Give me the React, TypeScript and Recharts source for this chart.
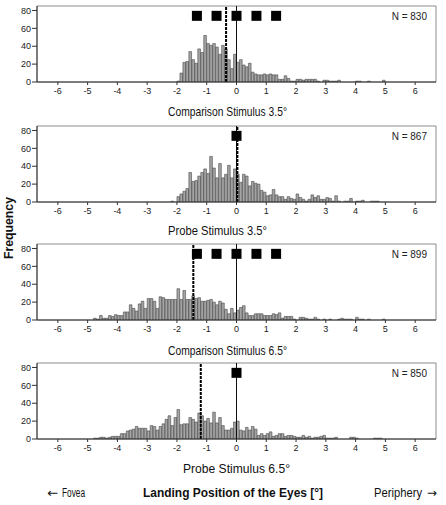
import { ComposedChart, Bar, XAxis, YAxis, ReferenceLine, ReferenceDot, ReferenceArea } from 'recharts';

const BIN_WIDTH = 0.1;
const X_TICKS = [-6, -5, -4, -3, -2, -1, 0, 1, 2, 3, 4, 5, 6];
const Y_TICKS = [0, 20, 40, 60, 80];

// counts per 0.1° bin, first bin starts at *_START
const COMPARISON_35_START = -2.0;
const COMPARISON_35 = [
  1, 10, 22, 23, 34, 25, 21, 37, 33, 52, 43, 41, 43, 39, 31, 41, 37, 25, 15, 31,
  22, 25, 19, 17, 21, 11, 9, 8, 8, 9,
  8, 9, 8, 8, 3, 3, 7, 4, 1, 1,
  3, 3, 2, 3, 3, 3, 3, 1, 0, 2,
  2, 1, 1, 1, 2, 0, 0, 0, 0, 0,
  1, 1, 0, 0, 1, 0, 0, 0, 0, 2,
];

const PROBE_35_START = -2.2;
const PROBE_35 = [
  1, 0,
  6, 9, 12, 15, 33, 23, 24, 29, 33, 37, 32, 51, 38, 27, 43, 27, 31, 41, 27, 37,
  31, 22, 31, 29, 18, 23, 21, 20, 13, 11,
  7, 8, 14, 8, 6, 6, 3, 6, 4, 3,
  9, 5, 3, 1, 3, 8, 5, 7, 3, 3,
  5, 4, 1, 7, 1, 0, 1, 1, 4, 0,
  1, 1, 2, 0, 0, 1, 1, 1,
];

const COMPARISON_65_START = -4.8;
const COMPARISON_65 = [
  2, 1, 5, 2, 2, 5, 4, 6, 5, 5,
  9, 9, 17, 13, 10, 18, 21, 13, 24, 24,
  21, 13, 26, 25, 23, 23, 23, 23, 35, 23,
  33, 23, 23, 27, 24, 25, 21, 21, 22, 23,
  20, 17, 21, 19, 12, 7, 13, 8,
  11, 14, 16, 8, 5, 5, 7, 7, 7, 5,
  5, 5, 7, 6, 8, 2, 4, 4, 4, 1,
  0, 3, 3, 2, 1, 1, 3, 1, 0, 1,
  0, 1, 0, 0, 1, 2, 1, 1, 1, 0,
  3, 1, 1, 0, 1, 0, 0, 0, 0, 1,
];

const PROBE_65_START = -4.8;
const PROBE_65 = [
  1, 1, 2, 2, 1, 2, 3, 3, 3, 6,
  6, 9, 10, 11, 14, 12, 12, 12, 9, 15,
  14, 10, 14, 17, 22, 26, 15, 24, 33, 16,
  17, 17, 24, 22, 19, 29, 26, 20, 23, 18,
  30, 18, 24, 15, 10, 10, 12, 19,
  20, 10, 9, 13, 10, 14, 11, 4, 6, 4,
  6, 8, 3, 4, 6, 6, 3, 4, 4, 3,
  2, 2, 4, 2, 3, 1, 2, 2, 3, 4,
  1, 1, 1, 2, 0, 0, 0, 0, 2, 2,
  1, 0, 0, 0, 0, 0, 1, 1, 1,
];

const STIMULI_FIVE = [-1.33, -0.67, 0, 0.67, 1.33];
const STIMULI_ONE = [0];
const STIMULUS_Y = 74;
const MEAN_LANDING = [-0.35, 0.03, -1.45, -1.2];
const N_VALUES = [830, 867, 899, 850];
const TITLES = ['Comparison Stimulus 3.5°', 'Probe Stimulus 3.5°', 'Comparison Stimulus 6.5°', 'Probe Stimulus 6.5°'];

const toBins = (start: number, counts: number[]) =>
  counts.map((c, i) => ({ x: +(start + i * BIN_WIDTH + BIN_WIDTH / 2).toFixed(2), count: c }));

const FONT = '"Liberation Sans", Arial, Helvetica, sans-serif';
const ARROW_FONT = '"DejaVu Sans", sans-serif';

const PANELS = [
  { data: toBins(COMPARISON_35_START, COMPARISON_35), stimuli: STIMULI_FIVE, top: 0, titleX: 168, titleY: 111, titleW: 119 },
  { data: toBins(PROBE_35_START, PROBE_35), stimuli: STIMULI_ONE, top: 120, titleX: 168, titleY: 230, titleW: 99 },
  { data: toBins(COMPARISON_65_START, COMPARISON_65), stimuli: STIMULI_FIVE, top: 238, titleX: 168, titleY: 350, titleW: 119 },
  { data: toBins(PROBE_65_START, PROBE_65), stimuli: STIMULI_ONE, top: 357, titleX: 183, titleY: 468, titleW: 107 },
];

const Square = (p: any) => <rect x={p.cx - 5} y={p.cy - 5} width={10} height={10} fill="#000" />;

function Histogram({ data, stimuli, mean }: { data: { x: number; count: number }[]; stimuli: number[]; mean: number }) {
  return (
    <ComposedChart width={446} height={100} data={data} margin={{ top: 6, right: 10, bottom: 0, left: 0 }}>
      <ReferenceArea x1={-6.7} x2={6.7} y1={0} y2={85} fill="#fff" fillOpacity={0} stroke="#8c8c8c" strokeWidth={1} />
      <XAxis
        dataKey="x"
        type="number"
        domain={[-6.7, 6.7]}
        ticks={X_TICKS}
        interval={0}
        allowDataOverflow
        height={18}
        tickSize={3}
        tickMargin={3}
        axisLine={{ stroke: '#333' }}
        tickLine={{ stroke: '#333' }}
        tick={{ fontSize: 9, fill: '#222', fontFamily: FONT }}
      />
      <YAxis
        type="number"
        domain={[0, 85]}
        ticks={Y_TICKS}
        interval={0}
        allowDataOverflow
        width={37}
        tickSize={5}
        tickMargin={1}
        axisLine={{ stroke: '#333' }}
        tickLine={{ stroke: '#333' }}
        tick={{ fontSize: 9, fill: '#222', fontFamily: FONT }}
      />
      <Bar dataKey="count" barSize={3} fill="#a4a4a4" stroke="#333" strokeWidth={0.5} isAnimationActive={false} />
      <ReferenceLine x={0} stroke="#111" strokeWidth={1} />
      <ReferenceLine x={mean} stroke="#000" strokeWidth={2} strokeDasharray="3 1" />
      {stimuli.map((s) => (
        <ReferenceDot key={s} x={s} y={STIMULUS_Y} r={5} shape={Square} />
      ))}
    </ComposedChart>
  );
}

export default function App() {
  return (
    <div style={{ position: 'absolute', left: 0, top: 0, width: 446, height: 505, background: '#fff', fontFamily: FONT }}>
      {PANELS.map((p, i) => (
        <div key={i} style={{ position: 'absolute', left: 0, top: p.top }}>
          <Histogram data={p.data} stimuli={p.stimuli} mean={MEAN_LANDING[i]} />
        </div>
      ))}
      <svg width={446} height={505} style={{ position: 'absolute', left: 0, top: 0, pointerEvents: 'none' }} fontFamily={FONT}>
        {PANELS.map((p, i) => (
          <g key={i}>
            <text x={427} y={p.top + 20} fontSize={10} textAnchor="end" fill="#222">{`N = ${N_VALUES[i]}`}</text>
            <text x={p.titleX} y={p.titleY + 5} fontSize={13.5} fill="#111" textLength={p.titleW} lengthAdjust="spacingAndGlyphs">
              {TITLES[i]}
            </text>
          </g>
        ))}
        <text x={0} y={0} transform="translate(13 228) rotate(-90)" textAnchor="middle" fontSize={13} fontWeight="bold" fill="#111" textLength={62} lengthAdjust="spacingAndGlyphs">
          Frequency
        </text>
        <text x={47} y={497} fontSize={12.5} fill="#111" fontFamily={ARROW_FONT} textLength={11} lengthAdjust="spacingAndGlyphs">←</text>
        <text x={62} y={497} fontSize={12.5} fill="#111" textLength={23} lengthAdjust="spacingAndGlyphs">Fovea</text>
        <text x={143} y={497} fontSize={13.5} fontWeight="bold" fill="#111" textLength={180} lengthAdjust="spacingAndGlyphs">
          Landing Position of the Eyes [°]
        </text>
        <text x={374} y={497} fontSize={12.5} fill="#111" textLength={48} lengthAdjust="spacingAndGlyphs">Periphery</text>
        <text x={437} y={497} fontSize={12.5} textAnchor="end" fill="#111" fontFamily={ARROW_FONT} textLength={10} lengthAdjust="spacingAndGlyphs">→</text>
      </svg>
    </div>
  );
}
